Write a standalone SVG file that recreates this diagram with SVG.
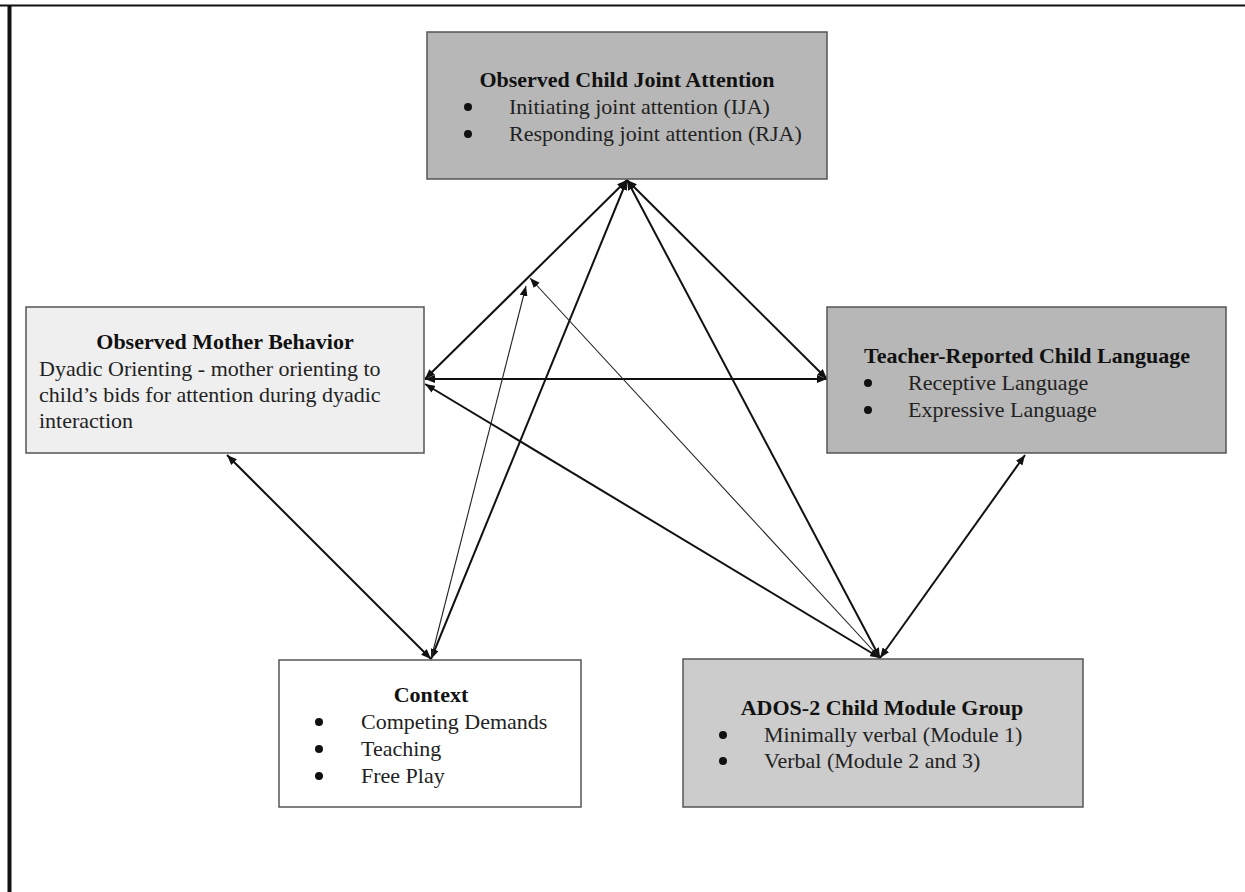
<svg xmlns="http://www.w3.org/2000/svg" width="1245" height="892" viewBox="0 0 1245 892">
<style>
.box{stroke:#555;stroke-width:1.5}
.t{font-family:"Liberation Serif","Times New Roman",serif;font-size:22px;fill:#222}
.b{font-weight:bold;text-anchor:middle;fill:#111}
.c{stroke:#111;stroke-width:2;fill:none}
.thin{stroke:#222;stroke-width:1.1;fill:none}
.dot{fill:#111}
</style>
<defs>
<marker id="ah" viewBox="0 0 10 8" refX="10" refY="4" markerWidth="10" markerHeight="8" markerUnits="userSpaceOnUse" orient="auto-start-reverse">
<path d="M0,0 L10,4 L0,8 z" fill="#111"/>
</marker>
</defs>
<rect x="0" y="0" width="1245" height="892" fill="#fff"/>
<g id="frame">
<line x1="0" y1="5.5" x2="1245" y2="5.5" stroke="#111" stroke-width="2"/>
<line x1="9.5" y1="5" x2="9.5" y2="892" stroke="#111" stroke-width="4"/>
</g>
<g id="connectors">
<line class="c" x1="627" y1="180" x2="425" y2="379" marker-start="url(#ah)" marker-end="url(#ah)"/>
<line class="c" x1="425" y1="379" x2="827" y2="379" stroke-width="1.6" marker-start="url(#ah)" marker-end="url(#ah)"/>
<line class="c" x1="627" y1="180" x2="827" y2="379" marker-start="url(#ah)" marker-end="url(#ah)"/>
<line class="c" x1="627" y1="180" x2="431" y2="659" marker-start="url(#ah)" marker-end="url(#ah)"/>
<line class="c" x1="627" y1="180" x2="880" y2="658" marker-start="url(#ah)" marker-end="url(#ah)"/>
<line class="c" x1="425" y1="384" x2="880" y2="658" marker-start="url(#ah)" marker-end="url(#ah)"/>
<line class="thin" x1="431" y1="659" x2="526" y2="286" marker-end="url(#ah)"/>
<line class="thin" x1="880" y1="658" x2="530" y2="278" marker-end="url(#ah)"/>
<line class="c" x1="227" y1="455" x2="431" y2="659" marker-start="url(#ah)" marker-end="url(#ah)"/>
<line class="c" x1="880" y1="658" x2="1025" y2="455" marker-start="url(#ah)" marker-end="url(#ah)"/>
</g>
<g id="joint-attention">
<rect class="box" x="427" y="32" width="400" height="147" fill="#b7b7b7"/>
<text class="t b" x="627" y="87">Observed Child Joint Attention</text>
<circle class="dot" cx="468" cy="107" r="4"/>
<text class="t" x="509" y="114">Initiating joint attention (IJA)</text>
<circle class="dot" cx="468" cy="134" r="4"/>
<text class="t" x="509" y="141">Responding joint attention (RJA)</text>
</g>
<g id="mother-behavior">
<rect class="box" x="26" y="307" width="398" height="146" fill="#efefef"/>
<text class="t b" x="225" y="349">Observed Mother Behavior</text>
<text class="t" x="39" y="376">Dyadic Orienting - mother orienting to</text>
<text class="t" x="39" y="402">child’s bids for attention during dyadic</text>
<text class="t" x="39" y="428">interaction</text>
</g>
<g id="teacher-language">
<rect class="box" x="827" y="307" width="399" height="146" fill="#b7b7b7"/>
<text class="t b" x="1027" y="363">Teacher-Reported Child Language</text>
<circle class="dot" cx="868" cy="383" r="4"/>
<text class="t" x="908" y="390">Receptive Language</text>
<circle class="dot" cx="868" cy="410" r="4"/>
<text class="t" x="908" y="417">Expressive Language</text>
</g>
<g id="context">
<rect class="box" x="279" y="660" width="302" height="147" fill="#ffffff"/>
<text class="t b" x="431" y="702">Context</text>
<circle class="dot" cx="319" cy="722" r="4"/>
<text class="t" x="361" y="729">Competing Demands</text>
<circle class="dot" cx="319" cy="749" r="4"/>
<text class="t" x="361" y="756">Teaching</text>
<circle class="dot" cx="319" cy="776" r="4"/>
<text class="t" x="361" y="783">Free Play</text>
</g>
<g id="ados">
<rect class="box" x="683" y="659" width="400" height="148" fill="#cccccc"/>
<text class="t b" x="882" y="715">ADOS-2 Child Module Group</text>
<circle class="dot" cx="723" cy="735" r="4"/>
<text class="t" x="764" y="742">Minimally verbal (Module 1)</text>
<circle class="dot" cx="723" cy="761" r="4"/>
<text class="t" x="764" y="768">Verbal (Module 2 and 3)</text>
</g>
</svg>
